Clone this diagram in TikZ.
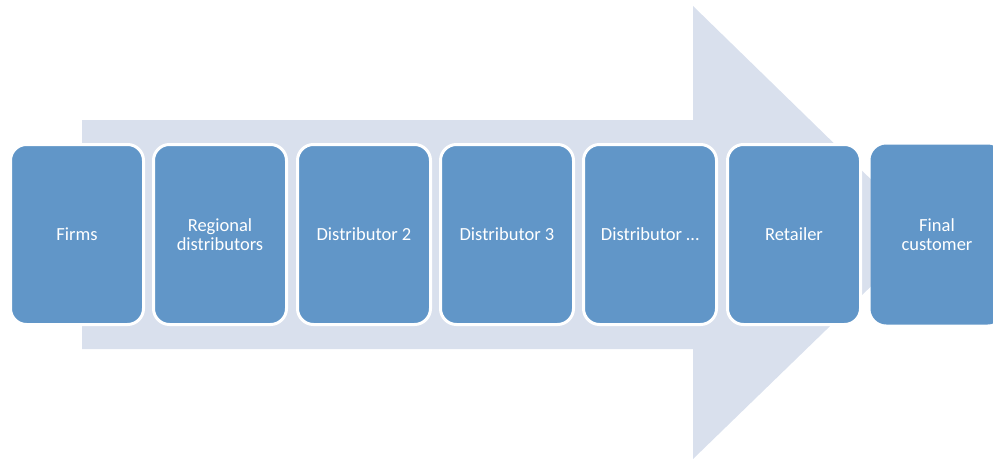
\documentclass[tikz,border=0pt]{standalone}
\usepackage{fontspec}
\setmainfont{Carlito}
\definecolor{boxblue}{RGB}{97,150,200}
\definecolor{arrowblue}{RGB}{217,224,237}
\begin{document}
\begin{tikzpicture}[x=1pt,y=-1pt,
  stage/.style={rectangle, rounded corners=16pt, fill=boxblue, draw=white, line width=3pt,
    minimum width=133pt, minimum height=180pt, inner sep=0pt, text=white,
    font=\fontsize{18.5}{19}\selectfont, align=center, anchor=north west}]
\useasboundingbox (0,0) rectangle (993,460);
\begin{scope}
\clip (0,0) rectangle (993,460);
\fill[arrowblue] (82,120) -- (693,120) -- (693,6) -- (926,233) -- (693,459) -- (693,349) -- (82,349) -- cycle;
\node[stage] (firms) at (9,143) {Firms};
\node[stage] (regional) at (152,143) {Regional\\distributors};
\node[stage] (d2) at (296,143) {Distributor 2};
\node[stage] (d3) at (439,143) {Distributor 3};
\node[stage] (dn) at (582,143) {Distributor \dots};
\node[stage] (retailer) at (726,143) {Retailer};
\node[stage, draw=none] (final) at (869,143) {Final\\customer};
\end{scope}
\end{tikzpicture}
\end{document}
